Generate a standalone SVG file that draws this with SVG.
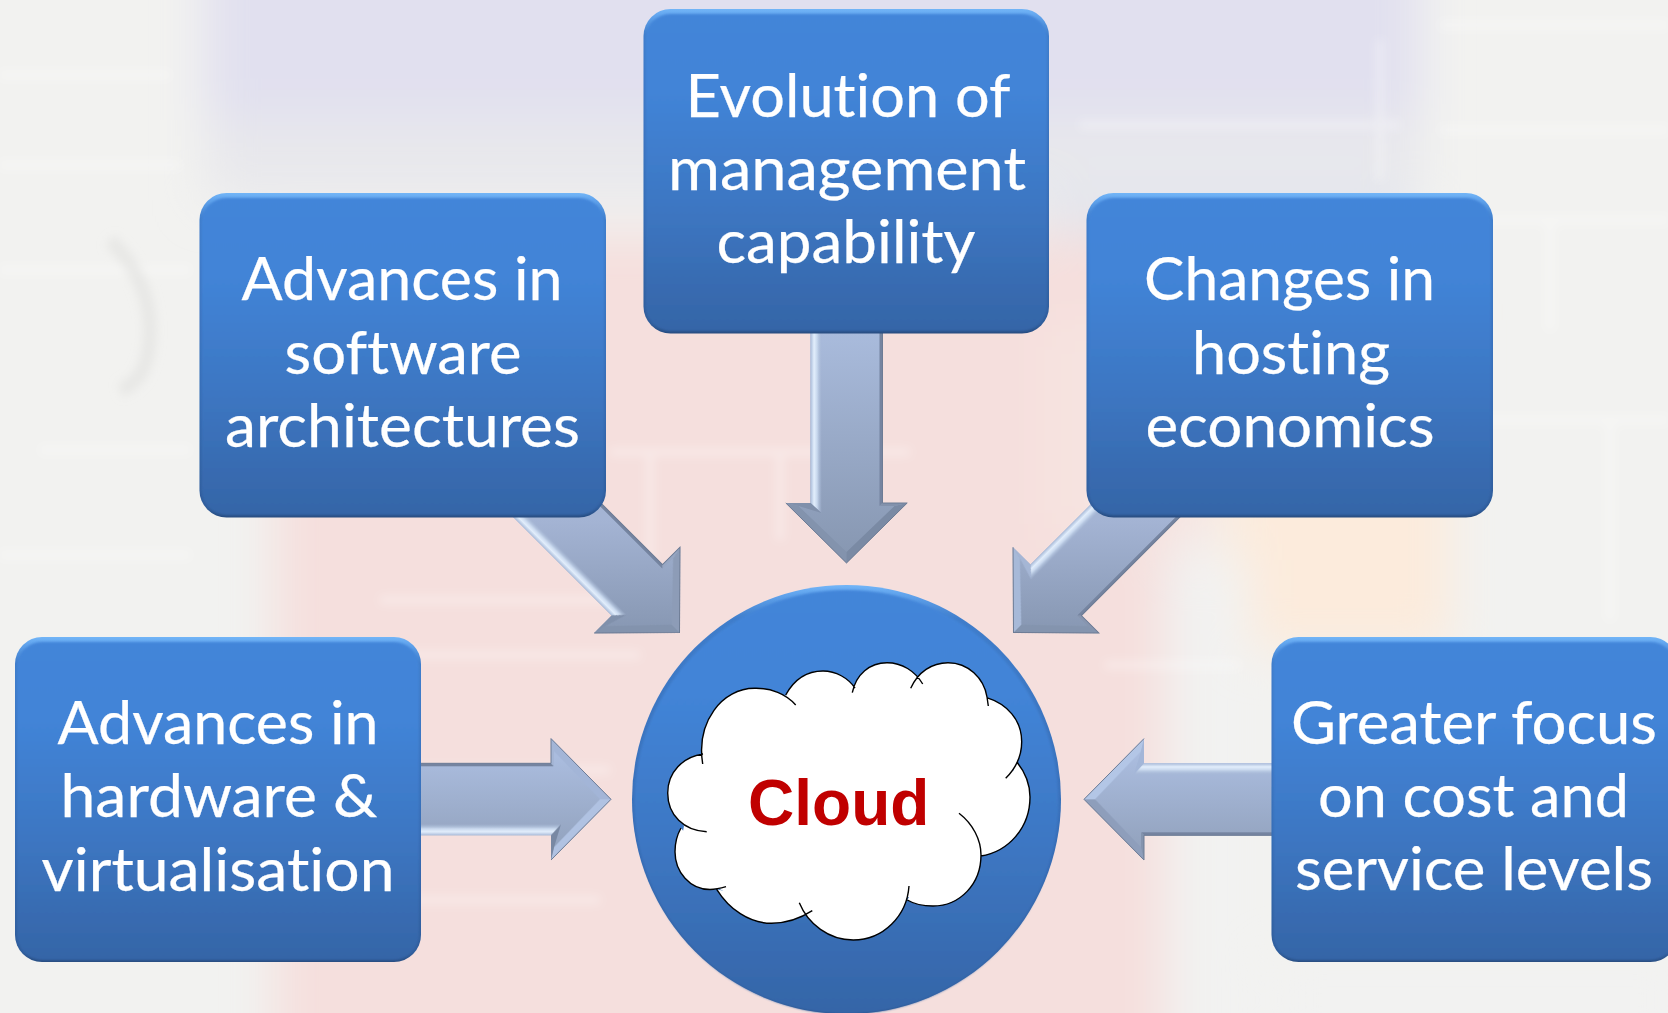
<svg xmlns="http://www.w3.org/2000/svg" xmlns:xlink="http://www.w3.org/1999/xlink" width="1668" height="1013" viewBox="0 0 1668 1013">
<style>
.t{font-family:"Lato","Carlito","Liberation Sans",sans-serif;font-size:60.5px;fill:#fff;text-anchor:middle;font-variant-ligatures:none;stroke:#fff;stroke-width:.25}
.c{font-family:"Liberation Sans",Arial,sans-serif;font-size:64px;font-weight:700;fill:#c00000;text-anchor:middle}
.arc{fill:none;stroke:#000;stroke-width:1.4}
.dk{fill:none;stroke:#6d7c95;stroke-width:1}
.brick{stroke:#fff;fill:none;stroke-width:8;opacity:.3}
</style>
<defs>
<linearGradient id="main" x1="0" y1="0" x2="0" y2="1"><stop offset="0" stop-color="#4385d9"/><stop offset=".25" stop-color="#4284d7"/><stop offset=".6" stop-color="#3d77c3"/><stop offset="1" stop-color="#3565a7"/></linearGradient>
<linearGradient id="rim" x1="0" y1="0" x2="0" y2="1"><stop offset="0" stop-color="#72b5f7"/><stop offset=".02" stop-color="#62a5ee"/><stop offset=".08" stop-color="#3f7dcb"/><stop offset=".6" stop-color="#376db6"/><stop offset=".97" stop-color="#2f5c9a"/><stop offset="1" stop-color="#274c80"/></linearGradient>
<linearGradient id="gd" gradientUnits="userSpaceOnUse" x1="0" y1="-230" x2="0" y2="0"><stop offset="0" stop-color="#a9bbdc"/><stop offset="1" stop-color="#8696b0"/></linearGradient>
<linearGradient id="gr" gradientUnits="userSpaceOnUse" x1="42" y1="0" x2="-50" y2="0"><stop offset="0" stop-color="#aabcde"/><stop offset="1" stop-color="#92a2bd"/></linearGradient>
<linearGradient id="gl" gradientUnits="userSpaceOnUse" x1="-42" y1="0" x2="50" y2="0"><stop offset="0" stop-color="#aabcde"/><stop offset="1" stop-color="#92a2bd"/></linearGradient>
<linearGradient id="gdl" gradientUnits="userSpaceOnUse" x1="80" y1="-80" x2="0" y2="0"><stop offset="0" stop-color="#a4b4d4"/><stop offset="1" stop-color="#8797b2"/></linearGradient>
<linearGradient id="gdr" gradientUnits="userSpaceOnUse" x1="-80" y1="-80" x2="0" y2="0"><stop offset="0" stop-color="#a4b4d4"/><stop offset="1" stop-color="#8797b2"/></linearGradient>
<linearGradient id="strip" gradientUnits="userSpaceOnUse" x1="-36" y1="0" x2="-24" y2="0"><stop offset="0" stop-color="#aabcda"/><stop offset=".3" stop-color="#e2eefc"/><stop offset=".55" stop-color="#c8d8ee"/><stop offset="1" stop-color="#a0b1cf" stop-opacity="0"/></linearGradient>
<filter id="bg" filterUnits="userSpaceOnUse" x="-120" y="-120" width="1908" height="1253"><feGaussianBlur stdDeviation="24"/></filter>
<filter id="bg2" filterUnits="userSpaceOnUse" x="-120" y="-120" width="1908" height="1253"><feGaussianBlur stdDeviation="5"/></filter>
<filter id="soft" x="-3%" y="-3%" width="106%" height="106%"><feGaussianBlur stdDeviation="1"/></filter>
<filter id="edge" x="-5%" y="-5%" width="110%" height="110%"><feGaussianBlur stdDeviation=".6"/></filter>
<polygon id="ab" points="-36,-240 -36,-60 -60.7,-60 0,0 60.7,-60 36,-60 36,-240"/>
<polygon id="fL" points="-60.7,-60 0,0 0,-11 -48,-57"/>
<polygon id="fR" points="60.7,-60 0,0 0,-11 48,-57"/>
<polygon id="bL" points="-60.7,-60 -36,-60 -25,-50 -48,-57"/>
<polygon id="bR" points="60.7,-60 36,-60 33,-57 48,-57"/>
<polygon id="sL" points="-36,-240 -36,-60 -25,-50 -25,-240" fill="url(#strip)"/>
<polygon id="sR" points="36,-240 36,-60 33,-57 33,-240" fill="#7484a0"/>
<polyline id="ed" class="dk" points="36,-240 36,-60 60.7,-60 0,0 -60.7,-60"/>
</defs>

<g id="background">
<rect x="-20" y="-20" width="1708" height="1053" fill="#f2f2f0"/>
<g filter="url(#bg)">
<rect x="205" y="-60" width="1215" height="200" fill="#e1e0ef"/>
<rect x="205" y="120" width="1215" height="80" fill="#e8e8ec"/>
<rect x="1040" y="180" width="370" height="70" fill="#e4e6ed"/>
<rect x="275" y="235" width="895" height="850" fill="#f5dfdd"/>
<rect x="1040" y="320" width="170" height="220" fill="#f6e3e0"/>
<rect x="1225" y="320" width="225" height="330" fill="#fcebdc"/>
<rect x="1165" y="560" width="85" height="520" fill="#f2f2f1"/>
<rect x="1270" y="960" width="420" height="80" fill="#f2f2f1"/>
</g>
<g filter="url(#bg2)">
<path class="brick" d="M610 452H910M650 452V560M780 452V540M300 655H640M380 600H640M300 770H610M300 900H600M1090 500H1240M1105 665H1240M1420 220H1668M1440 130H1668M1440 25H1668M1460 420H1668M1550 220V330M1610 420V620M0 75H170M0 165H180M0 270H190M40 450H190M0 555H190M1080 125H1400M1380 40V180"/>
<path d="M110 240q40 40 40 90t-30 60" fill="none" stroke="#dededc" stroke-width="14" opacity=".5"/>
</g>
</g>

<g id="connectors">
<g id="arrow-top" transform="translate(846.5 563)">
<use xlink:href="#ab" fill="url(#gd)"/>
<g filter="url(#edge)"><use xlink:href="#sL"/><use xlink:href="#sR"/>
<use xlink:href="#fL" fill="#8393ad"/><use xlink:href="#fR" fill="#7a8aa4"/><use xlink:href="#bL" fill="#8090ab"/><use xlink:href="#bR" fill="#8392ac"/></g>
<use xlink:href="#ed"/>
</g>
<g id="arrow-left" transform="translate(611 799.3) rotate(-90)">
<use xlink:href="#ab" fill="url(#gr)"/>
<g filter="url(#edge)"><use xlink:href="#sL"/><use xlink:href="#sR"/>
<use xlink:href="#fL" fill="#b0c2e2"/><use xlink:href="#fR" fill="#a3b5d7"/><use xlink:href="#bL" fill="#7888a3"/><use xlink:href="#bR" fill="#a4b5d5"/></g>
<use xlink:href="#ed"/>
</g>
<g id="arrow-right" transform="translate(1084 799.3) rotate(90)">
<use xlink:href="#ab" fill="url(#gl)"/>
<g filter="url(#edge)"><use xlink:href="#sL"/><use xlink:href="#sR"/>
<use xlink:href="#fL" fill="#b3c6e6"/><use xlink:href="#fR" fill="#8e9ebb"/><use xlink:href="#bL" fill="#a3b6d8"/><use xlink:href="#bR" fill="#8494ae"/></g>
<use xlink:href="#ed"/>
</g>
<g id="arrow-upper-left" transform="translate(679.5 632.5) rotate(-45)">
<use xlink:href="#ab" fill="url(#gdl)"/>
<g filter="url(#edge)"><use xlink:href="#sL"/><use xlink:href="#sR"/>
<use xlink:href="#fL" fill="#8393ad"/><use xlink:href="#fR" fill="#8d9cb7"/><use xlink:href="#bL" fill="#8090ab"/><use xlink:href="#bR" fill="#97a6c2"/></g>
<use xlink:href="#ed"/>
</g>
<g id="arrow-upper-right" transform="translate(1013.5 632.5) rotate(45)">
<use xlink:href="#ab" fill="url(#gdr)"/>
<g filter="url(#edge)"><use xlink:href="#sL"/><use xlink:href="#sR"/>
<use xlink:href="#fL" fill="#a7b9d8"/><use xlink:href="#fR" fill="#8494ae"/><use xlink:href="#bL" fill="#a5b6d5"/><use xlink:href="#bR" fill="#8795af"/></g>
<use xlink:href="#ed"/>
</g>
</g>

<g id="node-evolution">
<rect x="643.5" y="9" width="405.5" height="324.5" rx="27" fill="url(#rim)"/>
<rect x="645.5" y="14" width="401.5" height="317" rx="25" fill="url(#main)" filter="url(#soft)"/>
<text class="t" x="848" y="116.7" textLength="325" lengthAdjust="spacingAndGlyphs">Evolution of</text>
<text class="t" x="847" y="190" textLength="358" lengthAdjust="spacingAndGlyphs">management</text>
<text class="t" x="846" y="263.3" textLength="259" lengthAdjust="spacingAndGlyphs">capability</text>
</g>
<g id="node-software">
<rect x="199.5" y="193" width="406.5" height="324.5" rx="27" fill="url(#rim)"/>
<rect x="201.5" y="198" width="402.5" height="317" rx="25" fill="url(#main)" filter="url(#soft)"/>
<text class="t" x="402" y="300.4" textLength="321" lengthAdjust="spacingAndGlyphs">Advances in</text>
<text class="t" x="403" y="373.5" textLength="237" lengthAdjust="spacingAndGlyphs">software</text>
<text class="t" x="402.5" y="447" textLength="355" lengthAdjust="spacingAndGlyphs">architectures</text>
</g>
<g id="node-hosting">
<rect x="1086.5" y="193" width="406.5" height="324.5" rx="27" fill="url(#rim)"/>
<rect x="1088.5" y="198" width="402.5" height="317" rx="25" fill="url(#main)" filter="url(#soft)"/>
<text class="t" x="1289.5" y="300.4" textLength="291" lengthAdjust="spacingAndGlyphs">Changes in</text>
<text class="t" x="1291" y="373.5" textLength="198" lengthAdjust="spacingAndGlyphs">hosting</text>
<text class="t" x="1290" y="447" textLength="289" lengthAdjust="spacingAndGlyphs">economics</text>
</g>
<g id="node-hardware">
<rect x="15" y="637" width="406" height="325" rx="27" fill="url(#rim)"/>
<rect x="17" y="642" width="402" height="318" rx="25" fill="url(#main)" filter="url(#soft)"/>
<text class="t" x="218" y="744" textLength="321" lengthAdjust="spacingAndGlyphs">Advances in</text>
<text class="t" x="219" y="817" textLength="317" lengthAdjust="spacingAndGlyphs">hardware &amp;</text>
<text class="t" x="218" y="890.7" textLength="353" lengthAdjust="spacingAndGlyphs">virtualisation</text>
</g>
<g id="node-cost">
<rect x="1271.5" y="637" width="406" height="325" rx="27" fill="url(#rim)"/>
<rect x="1273.5" y="642" width="402" height="318" rx="25" fill="url(#main)" filter="url(#soft)"/>
<text class="t" x="1474" y="743.6" textLength="366" lengthAdjust="spacingAndGlyphs">Greater focus</text>
<text class="t" x="1473.5" y="816.8" textLength="311" lengthAdjust="spacingAndGlyphs">on cost and</text>
<text class="t" x="1474" y="890" textLength="358" lengthAdjust="spacingAndGlyphs">service levels</text>
</g>

<g id="node-cloud">
<circle cx="846.5" cy="799.5" r="214.5" fill="url(#rim)"/>
<circle cx="846.5" cy="802" r="212" fill="url(#main)" filter="url(#soft)"/>
<polygon fill="#fff" points="703,752 712,715 755,692 786,695.5 823,675 853.5,687 887,667 916,682 948,667 984,700 1017,741 1010,765 1026,797 985,852 977,860 933,902 908,897 853,936 805,908 772,919 718,888 710,885 679,852 684,826 672,793"/>
<path id="cloud-fill" fill="#fff" d="M702.7 764C696 722 722 688 755 688.3C771 688 786 694 795.7 705ZM785.7 695C795 678 808 671 823 671C836 671 848 678 855 688ZM852.3 692.7C856 674 870 662.7 887 662.7C902 662.7 915 671 922.7 684ZM910.7 688.3C918 672 932 662.7 948 662.7C968 662.7 984 678 987 697L988.3 706ZM986.7 697.7C1007 704 1021.7 720 1021.7 741.7C1021.7 757 1015 769 1005.7 778.3ZM1016.7 761.7C1025 772 1030 785 1030 797C1030 828 1008 852 980.7 856ZM959 813.3C973 824 981 840 981 855C981 884 960 906 933 906C923 906 914 904 907.3 900ZM909 886C907 916 883 940 853.3 940C829 940 808 924 799.3 902.7ZM812.3 910.7C801 918 787 923.3 771.7 923.3C749 923.3 729 909 716.7 889.3ZM726 886.7C720 888.5 715 889.5 710 889.5C690 889.5 675 872 675 851.7C675 843 677 835 681 828ZM706.7 831.7C684 831 667.7 815 667.7 793C667.7 772 683 757 703 754Z"/>
<path class="arc" d="M702.7 764C696 722 722 688 755 688.3C771 688 786 694 795.7 705M785.7 695C795 678 808 671 823 671C836 671 848 678 855 688M852.3 692.7C856 674 870 662.7 887 662.7C902 662.7 915 671 922.7 684M910.7 688.3C918 672 932 662.7 948 662.7C968 662.7 984 678 987 697L988.3 706M986.7 697.7C1007 704 1021.7 720 1021.7 741.7C1021.7 757 1015 769 1005.7 778.3M1016.7 761.7C1025 772 1030 785 1030 797C1030 828 1008 852 980.7 856M959 813.3C973 824 981 840 981 855C981 884 960 906 933 906C923 906 914 904 907.3 900M909 886C907 916 883 940 853.3 940C829 940 808 924 799.3 902.7M812.3 910.7C801 918 787 923.3 771.7 923.3C749 923.3 729 909 716.7 889.3M726 886.7C720 888.5 715 889.5 710 889.5C690 889.5 675 872 675 851.7C675 843 677 835 681 828M706.7 831.7C684 831 667.7 815 667.7 793C667.7 772 683 757 703 754"/>
<text class="c" x="838.7" y="825">Cloud</text>
</g>
</svg>
